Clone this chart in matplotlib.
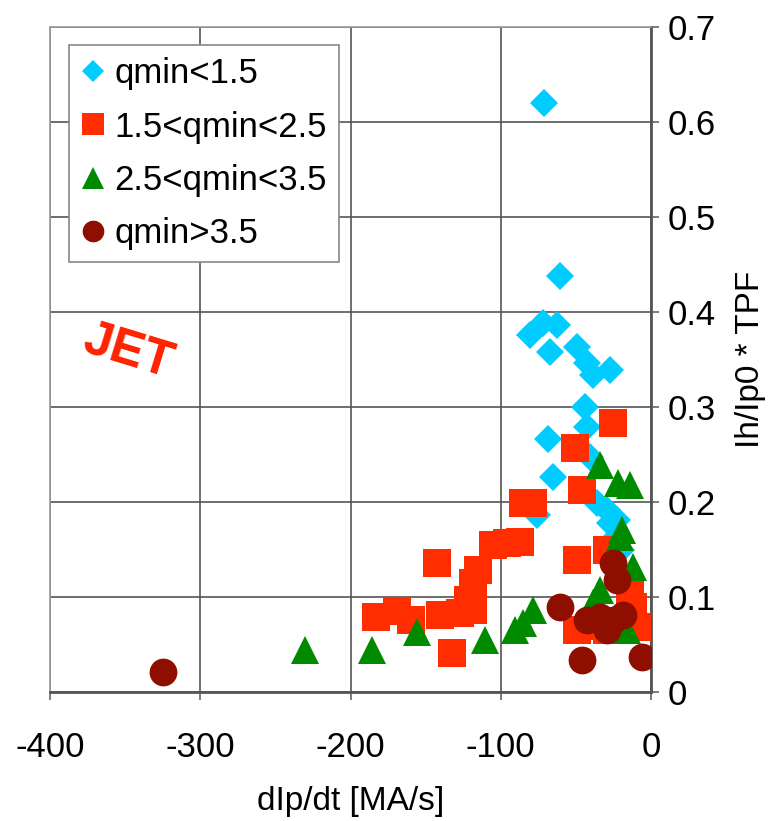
import numpy as np
import matplotlib
matplotlib.use('Agg')
import matplotlib.pyplot as plt

# data: dIp/dt [MA/s] vs Ih/Ip0 * TPF
x_q1 = [-71, -60.6, -80.5, -71.9, -62.6, -67.2, -49.3, -42.6, -38.6, -27.3, -43.9,
        -42.6, -68.6, -65.2, -40.6, -29.3, -22.6, -36, -75.9, -27.3, -25, -20]
y_q1 = [0.620, 0.438, 0.376, 0.388, 0.386, 0.358, 0.363, 0.346, 0.334, 0.339, 0.300,
        0.279, 0.266, 0.226, 0.247, 0.192, 0.181, 0.199, 0.186, 0.178, 0.16, 0.15]

x_q2 = [-25.3, -50.6, -45.9, -78.5, -85, -142.4, -87.2, -95.8, -105, -115, -118.5,
        -121.8, -118.5, -127, -140.4, -160, -169, -183, -132.4, -49.3, -29.3, -49.3,
        -12, -9.3, -29.3, -14, -35, -20]
y_q2 = [0.283, 0.257, 0.213, 0.199, 0.199, 0.136, 0.158, 0.157, 0.155, 0.128, 0.115,
        0.097, 0.086, 0.083, 0.081, 0.076, 0.085, 0.079, 0.041, 0.139, 0.149, 0.065,
        0.089, 0.068, 0.065, 0.107, 0.07, 0.07]

x_q3 = [-34, -22, -14, -20.6, -12, -34, -38.6, -16, -78.5, -85, -90.5, -110.5,
        -155.7, -230, -185.7, -19.3]
y_q3 = [0.239, 0.22, 0.218, 0.163, 0.132, 0.107, 0.094, 0.065, 0.086, 0.073, 0.065,
        0.055, 0.063, 0.044, 0.044, 0.171]

x_q4 = [-324.8, -60.6, -45.9, -6, -25.3, -22.6, -42.6, -34, -25.3, -18.6, -29.3]
y_q4 = [0.021, 0.089, 0.034, 0.037, 0.136, 0.118, 0.076, 0.079, 0.076, 0.081, 0.065]

labels = ['qmin<1.5', '1.5<qmin<2.5', '2.5<qmin<3.5', 'qmin>3.5']

plt.rcParams['font.family'] = ['Liberation Sans', 'DejaVu Sans']
plt.rcParams['axes.unicode_minus'] = False

fig = plt.figure(figsize=(7.74, 8.21), dpi=100)
ax = fig.add_axes([0.0646, 0.1571, 0.7765, 0.81])

ax.plot(x_q1, y_q1, 'D', ms=14, color='#00CCFF', mew=0, label=labels[0], zorder=3)
ax.plot(x_q2, y_q2, 's', ms=19.5, color='#FF2D00', mew=0, label=labels[1], zorder=4)
ax.plot(x_q3, y_q3, '^', ms=20, color='#008A00', mew=0, label=labels[2], zorder=5)
ax.plot(x_q4, y_q4, 'o', ms=20, color='#8E0E00', mew=0, label=labels[3], zorder=6)

ax.set_xlim(-400, 0)
ax.set_ylim(0, 0.7)
ax.set_xticks([-400, -300, -200, -100, 0])
ax.set_yticks(np.arange(0, 0.71, 0.1))
ax.set_yticklabels(['0', '0.1', '0.2', '0.3', '0.4', '0.5', '0.6', '0.7'])
ax.yaxis.tick_right()
ax.yaxis.set_label_position('right')
ax.tick_params(axis='x', direction='out', length=6, width=1.2, color='#666666',
               labelsize=25, pad=22)
ax.tick_params(axis='y', direction='out', length=6, width=1.2, color='#666666',
               labelsize=25, pad=6)

ax.grid(True, color='#555555', linewidth=1.2, zorder=0)
ax.set_axisbelow(True)
for side in ['left', 'top']:
    ax.spines[side].set_color('#999999')
    ax.spines[side].set_linewidth(1.2)
for side in ['bottom', 'right']:
    ax.spines[side].set_color('#555555')
    ax.spines[side].set_linewidth(2)

ax.set_xlabel('dIp/dt [MA/s]', fontsize=24, labelpad=16)
ax.set_ylabel('Ih/Ip0 * TPF', fontsize=24, labelpad=14)

ax.text(-348, 0.358, 'JET', color='#FF2200', fontsize=36, fontweight='bold',
        rotation=-17, ha='center', va='center')

leg = ax.legend(loc='upper left', bbox_to_anchor=(0.032, 0.973), borderaxespad=0,
                fontsize=25, markerscale=0.78, handlelength=0.65, handletextpad=0.28,
                labelspacing=0.58, borderpad=0.36, fancybox=False, framealpha=1,
                edgecolor='#888888')
leg.get_frame().set_linewidth(1.2)

fig.savefig('out.png', dpi=100)
